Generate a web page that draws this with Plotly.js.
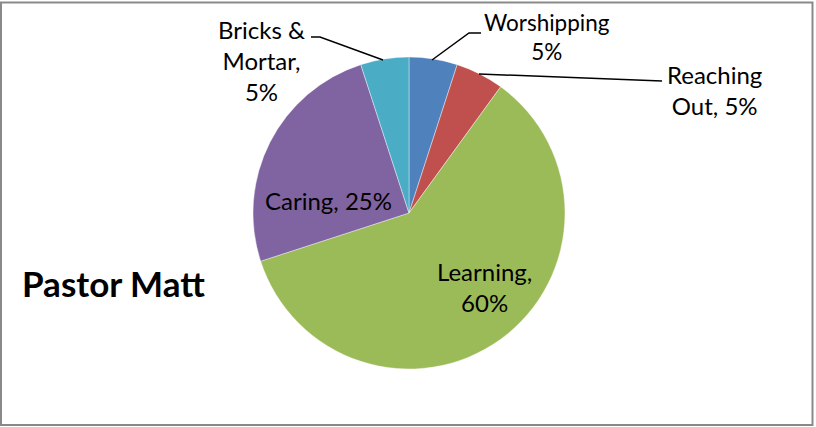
<!DOCTYPE html>
<html>
<head>
<meta charset="utf-8">
<script src="https://cdn.plot.ly/plotly-3.0.1.min.js"></script>
<style>html,body{margin:0;padding:0;background:#fff;}#chart{width:816px;height:427px;}</style>
</head>
<body>
<div id="chart"></div>
<script>
const categories = ["Worshipping", "Reaching Out", "Learning", "Caring", "Bricks & Mortar"];
const values = [5, 5, 60, 25, 5];
const colors = ["#4F81BD", "#C0504D", "#9BBB59", "#8064A2", "#4BACC6"];
const chartTitle = "Pastor Matt";
const labelTexts = ["Worshipping<br>5%", "Reaching<br>Out, 5%", "Learning,<br>60%", "Caring, 25%", "Bricks &<br>Mortar,<br>5%"];

const W = 816, H = 427;
const px = x => x / W;
const py = y => 1 - y / H;
const fam = "Lato, 'Open Sans', sans-serif";

const labelPos = [
  {x: 547, y: 37, s: 22.5},
  {x: 714, y: 90, s: 24},
  {x: 484, y: 287, s: 24},
  {x: 328, y: 200, s: 24},
  {x: 261, y: 61, s: 24}
];

const annotations = labelTexts.map((t, i) => ({
  text: t, x: px(labelPos[i].x), y: py(labelPos[i].y), xref: "paper", yref: "paper",
  showarrow: false, font: {family: fam, size: labelPos[i].s, color: "#000"},
  xanchor: "center", yanchor: "middle", align: "center"
}));
annotations.push({
  text: "<b>" + chartTitle + "</b>", x: px(20), y: py(283), xref: "paper", yref: "paper",
  showarrow: false, xanchor: "left", yanchor: "middle",
  font: {family: fam, size: 35, color: "#000"}
});

const lineStyle = {color: "#000", width: 1.5};
const leaders = [
  [[432, 60], [469, 33], [481, 33]],
  [[479, 74], [662, 81]],
  [[383, 60], [320, 37], [311, 37]]
];
const shapes = [];
leaders.forEach(pts => {
  let d = "M" + pts.map(p => px(p[0]) + "," + py(p[1])).join(" L");
  shapes.push({type: "path", xref: "paper", yref: "paper", path: d, line: lineStyle});
});
shapes.push({type: "rect", xref: "paper", yref: "paper", x0: px(1), x1: px(812.5), y0: py(2.5), y1: py(425),
  line: {color: "#898989", width: 2}});

const cx = 409, cy = 213, r = 156;
const data = [{
  type: "pie",
  labels: categories,
  values: values,
  sort: false,
  direction: "clockwise",
  rotation: 0,
  textinfo: "none",
  hoverinfo: "label+percent",
  marker: {colors: colors, line: {color: "#ffffff", width: 0.4}},
  domain: {x: [px(cx - r), px(cx + r)], y: [py(cy + r), py(cy - r)]},
  showlegend: false
}];

const layout = {
  width: W, height: H,
  margin: {l: 0, r: 0, t: 0, b: 0},
  paper_bgcolor: "#fff",
  showlegend: false,
  annotations: annotations,
  shapes: shapes
};
Plotly.newPlot("chart", data, layout, {displayModeBar: false, staticPlot: true});
</script>
</body>
</html>
